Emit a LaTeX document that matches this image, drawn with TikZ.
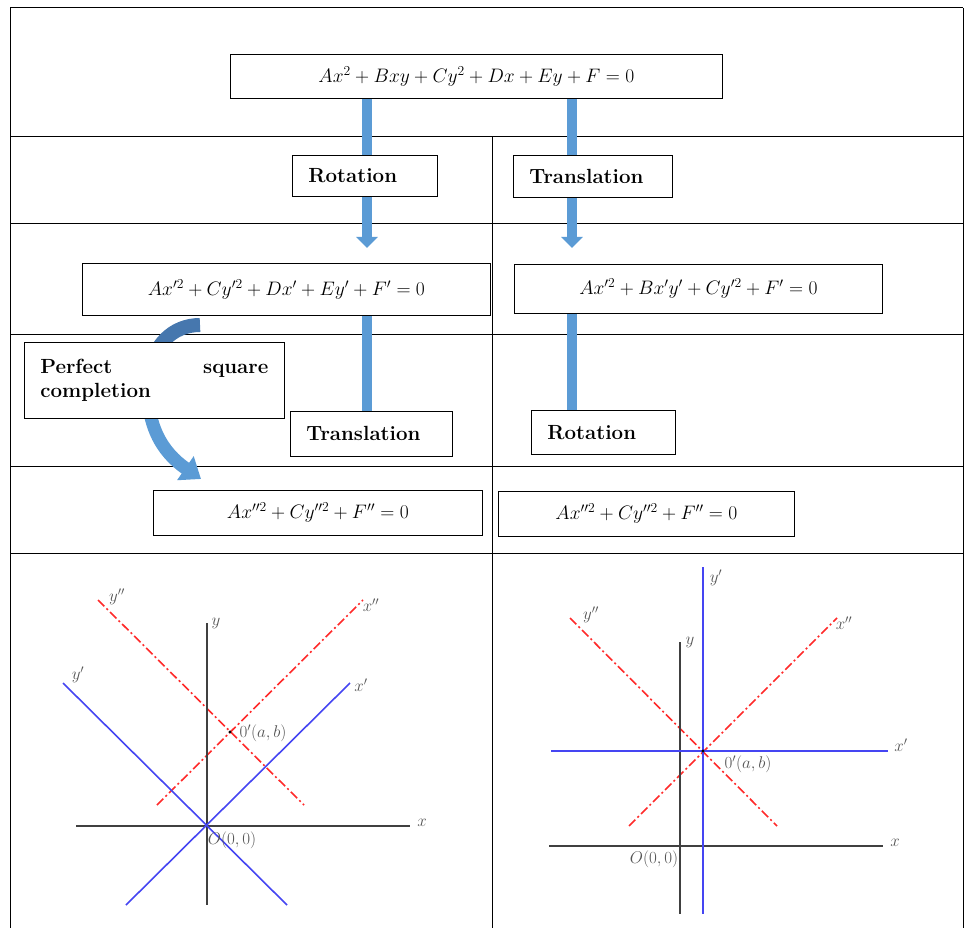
\RequirePackage{fix-cm}
\documentclass[tikz,border=0pt]{standalone}
\usetikzlibrary{arrows.meta}
\definecolor{arrblue}{HTML}{5B9BD5}
\definecolor{arrdark}{HTML}{4677AE}
\definecolor{lblgray}{HTML}{555555}
\definecolor{axblue}{HTML}{4545F2}
\definecolor{axred}{HTML}{FF2A2A}
\pgfdeclarelayer{bg}
\pgfdeclarelayer{mid}
\pgfsetlayers{bg,mid,main}
\begin{document}
\begin{tikzpicture}[x=1pt,y=-1pt,
  tbl/.style={line width=1pt, black},
  eqbox/.style={draw, line width=0.8pt, fill=white, anchor=north west, inner sep=0pt, font=\fontsize{19.5}{23}\selectfont},
  labbox/.style={draw, line width=0.8pt, fill=white, anchor=north west, inner xsep=16pt, inner ysep=0pt, align=left, font=\fontsize{20.5}{24}\selectfont\bfseries},
  shaft/.style={arrblue, line width=10pt},
  bigarrow/.style={shaft, -{Triangle[width=21pt,length=11pt]}},
  axis/.style={line width=1.6pt, black!75},
  bluax/.style={line width=1.6pt, axblue},
  redax/.style={line width=1.6pt, axred, dash pattern=on 9pt off 3pt on 2pt off 3pt},
  glab/.style={text=lblgray, font=\fontsize{17}{20}\selectfont, inner sep=0pt},
]
\useasboundingbox (0,0) rectangle (964,928);

% table
\begin{pgfonlayer}{bg}
\draw[tbl] (10,8) -- (963,8);
\draw[tbl] (10,8) -- (10,928);
\draw[tbl] (963,8) -- (963,928);
\foreach \yy in {137,224,334,466,553} \draw[tbl] (10,\yy) -- (963,\yy);
\draw[tbl] (492,137) -- (492,928);
\end{pgfonlayer}

% boxes
\node[eqbox, minimum width=492pt, minimum height=44pt] (top) at (230,54)
  {$Ax^2+Bxy+Cy^2+Dx+Ey+F=0$};
\node[labbox, text width=113pt, minimum height=41pt] (rot1) at (292,155) {Rotation};
\node[labbox, text width=127pt, minimum height=42pt] (tra1) at (513,155) {Translation};
\node[eqbox, minimum width=408pt, minimum height=52pt] (eqL) at (82,263)
  {$Ax'^2+Cy'^2+Dx'+Ey'+F'=0$};
\node[eqbox, minimum width=368pt, minimum height=49pt] (eqR) at (514,264)
  {$Ax'^2+Bx'y'+Cy'^2+F'=0$};
\node[labbox, text width=228pt, minimum height=76pt] (psq) at (24,342)
  {Perfect\hfill square\\completion};
\node[labbox, text width=130pt, minimum height=45pt] (tra2) at (290,411) {Translation};
\node[labbox, text width=112pt, minimum height=44pt] (rot2) at (531,410) {Rotation};
\node[eqbox, minimum width=329pt, minimum height=45pt] (eqL2) at (153,490)
  {$Ax''^2+Cy''^2+F''=0$};
\node[eqbox, minimum width=296pt, minimum height=45pt] (eqR2) at (498,491)
  {$Ax''^2+Cy''^2+F''=0$};

% arrows
\coordinate (a1) at (367,248);
\coordinate (a2) at (572,248);
\coordinate (cs) at (200,325);
\coordinate (ce) at (201,479);
\begin{pgfonlayer}{mid}
\draw[bigarrow] (top.south -| a1) -- (a1);
\draw[bigarrow] (top.south -| a2) -- (a2);
\draw[shaft] (eqL.south -| a1) -- (tra2.north -| a1);
\draw[shaft] (eqR.south -| a2) -- (rot2.north -| a2);
\draw[line width=14pt, arrdark] (cs) .. controls (172,325) and (152,346) .. (148,378);
\draw[line width=13pt, arrblue, -{Triangle[width=28pt,length=19pt]}]
  (148,376) .. controls (145,425) and (162,452) .. (ce);
\end{pgfonlayer}

% left graph
\draw[redax] (157,805) -- (363,600);
\draw[redax] (98,600) -- (304,805);
\draw[axis] (76,826) -- (410,826);
\draw[axis] (207,623) -- (207,905);
\draw[bluax] (63,683) -- (287,905);
\draw[bluax] (126,905) -- (350,683);
\fill (230,732) circle (1.6pt);
\node[glab] (lx) at (422,823) {$x$};
\node[glab] (ly) at (216,623) {$y$};
\node[glab] (lO) at (232,840) {$O(0,0)$};
\node[glab] (lOp) at (263,733) {$0'(a,b)$};
\node[glab] (lxp) at (361,685) {$x'$};
\node[glab] (lyp) at (78,675) {$y'$};
\node[glab] (lxpp) at (371,605) {$x''$};
\node[glab] (lypp) at (117,597) {$y''$};

% right graph
\draw[redax] (629,826) -- (837,618);
\draw[redax] (570,618) -- (777,826);
\draw[axis] (549,846) -- (883,846);
\draw[axis] (680,642) -- (680,914);
\draw[bluax] (703,567) -- (703,914);
\draw[bluax] (551,751) -- (888,751);
\fill (703,751) circle (1.6pt);
\node[glab] (rx) at (895,843) {$x$};
\node[glab] (ry) at (690,642) {$y$};
\node[glab] (rO) at (654,859) {$O(0,0)$};
\node[glab] (rOp) at (748,764) {$0'(a,b)$};
\node[glab] (rxp) at (901,745) {$x'$};
\node[glab] (ryp) at (716,578) {$y'$};
\node[glab] (rxpp) at (844,623) {$x''$};
\node[glab] (rypp) at (591,615) {$y''$};
\end{tikzpicture}
\end{document}
